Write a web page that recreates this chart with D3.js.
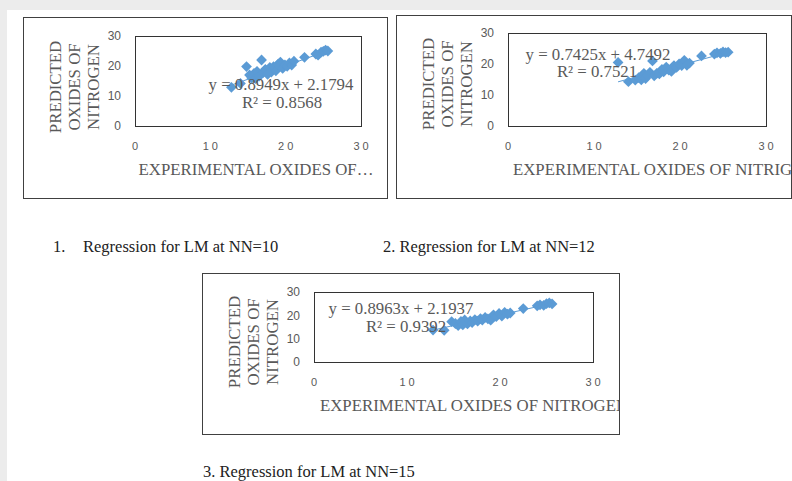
<!DOCTYPE html>
<html>
<head>
<meta charset="utf-8">
<script src="https://cdn.jsdelivr.net/npm/d3@7"></script>
<style>
  body { margin: 0; background: #ececec; }
  svg { display: block; }
  .tick-y { font-family: "Liberation Sans", Arial, sans-serif; font-size: 12px; fill: #595959; }
  .tick-x { font-family: "Liberation Sans", Arial, sans-serif; font-size: 11px; fill: #595959; letter-spacing: 3px; }
  .title { font-family: "Liberation Serif", "Times New Roman", serif; font-size: 16.8px; fill: #595959; }
  .caption { font-family: "Liberation Serif", "Times New Roman", serif; font-size: 16.5px; fill: #222; }
</style>
</head>
<body>
<div id="chart"></div>
<script>
var W = 792, H = 481;

// data
var xTicks = [0, 10, 20, 30];
var yTicks = [0, 10, 20, 30];

var experimental = [12.8, 14.0, 14.8, 15.2, 15.5, 15.8, 16.0, 16.2, 16.5, 16.8, 17.0, 17.3, 17.6, 17.9, 18.1, 18.4,
    18.7, 19.0, 19.3, 19.6, 19.9, 20.2, 20.5, 20.8, 21.1, 22.5, 24.0, 24.3, 24.7, 25.0, 25.3, 25.6];

var predictedNN10 = [12.9, 14.2, 19.8, 17.0, 16.0, 17.5, 15.8, 18.2, 16.6, 22.0, 17.8, 18.9, 17.2, 19.5, 18.0, 19.8,
    18.4, 20.6, 21.3, 19.2, 20.4, 19.9, 21.0, 20.3, 21.6, 22.9, 24.0, 23.6, 24.6, 24.9, 25.3, 25.0];

var predictedNN12 = [20.5, 14.3, 14.8, 15.6, 14.9, 17.0, 15.3, 16.2, 17.3, 21.0, 16.2, 17.0, 16.8, 18.3, 17.5, 19.0,
    18.0, 17.6, 19.5, 18.9, 20.0, 19.5, 21.2, 19.6, 20.3, 22.6, 23.2, 23.6, 23.4, 23.9, 23.7, 23.8];

var predictedNN15 = [13.7, 13.6, 17.3, 16.5, 15.6, 17.4, 15.9, 18.0, 16.3, 17.6, 16.9, 18.2, 17.5, 18.6, 18.0, 19.1,
    18.5, 17.9, 20.2, 19.4, 20.8, 19.7, 21.3, 20.5, 21.0, 22.9, 24.1, 24.5, 24.3, 25.0, 25.3, 24.9];

var slopes = [0.8949, 0.7425, 0.8963];
var intercepts = [2.1794, 4.7492, 2.1937];
var rSquared = ["0.8568", "0.7521", "0.9392"];

var xTitles = ["EXPERIMENTAL OXIDES OF\u2026", "EXPERIMENTAL OXIDES OF NITRIGEN", "EXPERIMENTAL OXIDES OF NITROGEN"];
var yTitleLines = ["PREDICTED", "OXIDES OF", "NITROGEN"];
var captions = ["Regression for LM at NN=10", "2. Regression for LM at NN=12", "3. Regression for LM at NN=15"];

var series = [predictedNN10, predictedNN12, predictedNN15];

// where each excel chart sits on the page
var panels = [
    {box: [23, 17, 364, 181], plot: [135, 36, 226, 90], yTitleY: 87, xTitle: [256, 175, "middle"],
     eq: [281, 90], r2: [282, 108]},
    {box: [396, 15, 395, 183], plot: [508, 33, 258, 93], yTitleY: 84, xTitle: [513, 175, "start"],
     eq: [598, 60], r2: [597, 77]},
    {box: [202, 273, 417, 161], plot: [314, 292, 279, 70], yTitleY: 342, xTitle: [320, 411, "start"],
     eq: [401, 314], r2: [406, 332]}
];

var svg = d3.select("#chart").append("svg")
    .attr("width", W)
    .attr("height", H);

// page
svg.append("rect").attr("x", 7).attr("y", 10).attr("width", W - 7).attr("height", H - 10).attr("fill", "#fff");

var diamond = d3.symbol().type(d3.symbolSquare).size(58);

panels.forEach(function(p, k) {
    var g = svg.append("g");
    var b = p.box, pl = p.plot;

    var clipId = "clip" + k;
    svg.append("clipPath").attr("id", clipId)
        .append("rect").attr("x", b[0]).attr("y", b[1]).attr("width", b[2]).attr("height", b[3]);

    g.append("rect")
        .attr("x", b[0] + 0.5).attr("y", b[1] + 0.5)
        .attr("width", b[2]).attr("height", b[3])
        .attr("fill", "#fff").attr("stroke", "#404040");

    var x = d3.scaleLinear().domain([0, 30]).range([pl[0], pl[0] + pl[2]]);
    var y = d3.scaleLinear().domain([0, 30]).range([pl[1] + pl[3], pl[1]]);

    g.append("rect")
        .attr("x", pl[0] + 0.5).attr("y", pl[1] + 0.5)
        .attr("width", pl[2]).attr("height", pl[3])
        .attr("fill", "none").attr("stroke", "#333");

    g.selectAll(".tick-y").data(yTicks).enter().append("text")
        .attr("class", "tick-y")
        .attr("x", pl[0] - 14)
        .attr("y", function(d) { return y(d); })
        .attr("dy", "0.35em")
        .attr("text-anchor", "end")
        .text(function(d) { return d; });

    g.selectAll(".tick-x").data(xTicks).enter().append("text")
        .attr("class", "tick-x")
        .attr("x", function(d) { return x(d) + 1.5; })
        .attr("y", pl[1] + pl[3] + 20)
        .attr("dy", "0.35em")
        .attr("text-anchor", "middle")
        .text(function(d) { return d; });

    // rotated y title, three lines
    yTitleLines.forEach(function(t, i) {
        var cx = pl[0] - 80 + i * 19 + 5.5;
        g.append("text")
            .attr("class", "title")
            .attr("transform", "translate(" + cx + "," + p.yTitleY + ") rotate(-90)")
            .attr("text-anchor", "middle")
            .text(t);
    });

    g.append("text")
        .attr("class", "title")
        .attr("clip-path", "url(#" + clipId + ")")
        .attr("x", p.xTitle[0]).attr("y", p.xTitle[1])
        .attr("text-anchor", p.xTitle[2])
        .text(xTitles[k]);

    var pts = experimental.map(function(v, i) { return [v, series[k][i]]; });

    g.selectAll(".pt").data(pts).enter().append("path")
        .attr("class", "pt")
        .attr("d", diamond)
        .attr("transform", function(d) { return "translate(" + x(d[0]) + "," + y(d[1]) + ") rotate(45)"; })
        .attr("fill", "#5b9bd5");

    var ext = d3.extent(experimental);
    g.append("line")
        .attr("x1", x(ext[0])).attr("y1", y(slopes[k] * ext[0] + intercepts[k]))
        .attr("x2", x(ext[1])).attr("y2", y(slopes[k] * ext[1] + intercepts[k]))
        .attr("stroke", "#5b9bd5").attr("stroke-width", 1);

    g.append("text").attr("class", "title")
        .attr("x", p.eq[0]).attr("y", p.eq[1]).attr("text-anchor", "middle")
        .text("y = " + slopes[k] + "x + " + intercepts[k]);
    g.append("text").attr("class", "title")
        .attr("x", p.r2[0]).attr("y", p.r2[1]).attr("text-anchor", "middle")
        .text("R\u00b2 = " + rSquared[k]);
});

// captions under the charts
svg.append("text").attr("class", "caption").attr("x", 53).attr("y", 252).text("1.");
svg.append("text").attr("class", "caption").attr("x", 83).attr("y", 252).text(captions[0]);
svg.append("text").attr("class", "caption").attr("x", 383).attr("y", 252).text(captions[1]);
svg.append("text").attr("class", "caption").attr("x", 203).attr("y", 477).text(captions[2]);
</script>
</body>
</html>
